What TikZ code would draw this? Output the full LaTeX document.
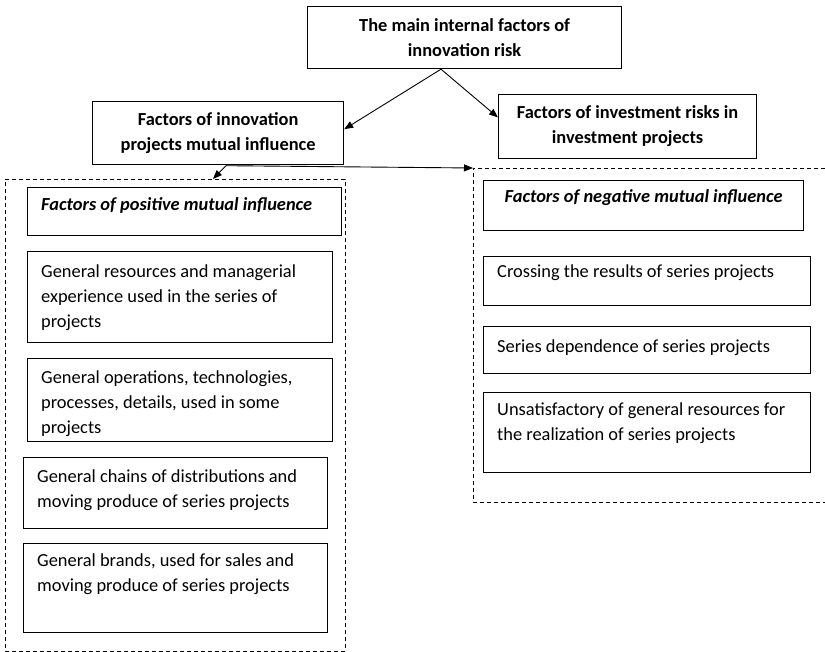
\documentclass[tikz,border=0pt]{standalone}
\usepackage{fontspec}
\setmainfont{Carlito}
\usetikzlibrary{arrows.meta,calc}
\newcommand{\fs}{\fontsize{18.4}{25}\selectfont}
\newcommand{\st}{\rule{0pt}{15pt}}
\begin{document}
\begin{tikzpicture}[x=1pt,y=-1pt,
  box/.style={draw=black, line width=1.2pt, inner sep=0pt, anchor=north west},
  hbox/.style={box, align=center, font=\bfseries\fs},
  txt/.style={inner sep=0pt, align=left, font=\fs, anchor=north west},
  cont/.style={draw=black, line width=0.9pt, dash pattern=on 4pt off 3pt},
  arr/.style={draw=black, line width=0.9pt, -{Triangle[length=9pt,width=7pt]}}
]
\useasboundingbox (0,0) rectangle (825,652);

% top level boxes
\node[hbox, minimum width=314pt, minimum height=62pt] (top) at (307,6) {The main internal factors of\\innovation risk};
\node[hbox, minimum width=251pt, minimum height=63pt] (lb) at (92,101) {Factors of innovation\\projects mutual influence};
\node[hbox, minimum width=258pt, minimum height=64pt] (rb) at (498,94) {Factors of investment risks in\\investment projects};

% left container
\node[cont, inner sep=0pt, minimum width=340pt, minimum height=472pt, anchor=north west] (lc) at (5,179) {};
\node[box, minimum width=314pt, minimum height=48pt] (ph) at (27,187) {};
\node[txt] (pht) at ($(ph.north west)+(14,8)$) {\st\textbf{\textit{Factors of positive mutual influence}}};
\node[box, minimum width=305pt, minimum height=91pt] (b1) at (27,251) {};
\node[txt] (b1t) at ($(b1.north west)+(14,11)$) {\st General resources and managerial\\experience used in the series of\\projects};
\node[box, minimum width=305pt, minimum height=83pt] (b2) at (27,358) {};
\node[txt] (b2t) at ($(b2.north west)+(14,10)$) {\st General operations, technologies,\\processes, details, used in some\\projects};
\node[box, minimum width=304pt, minimum height=71pt] (b3) at (23,457) {};
\node[txt] (b3t) at ($(b3.north west)+(14,10)$) {\st General chains of distributions and\\moving produce of series projects};
\node[box, minimum width=304pt, minimum height=89pt] (b4) at (23,543) {};
\node[txt] (b4t) at ($(b4.north west)+(14,8)$) {\st General brands, used for sales and\\moving produce of series projects};

% right container
\coordinate (rc) at (473,168);
\coordinate (rcb) at (473,502);
\draw[cont] (825,168) -- (rc) -- (rcb) -- (825,502);
\node[box, minimum width=320pt, minimum height=50pt] (nh) at (483,180) {};
\node[inner sep=0pt, font=\fs, anchor=base] (nht) at ($(nh.north)+(0,23)$) {\textbf{\textit{Factors of negative mutual influence}}};
\node[box, minimum width=327pt, minimum height=49pt] (n1) at (483,256) {};
\node[txt] (n1t) at ($(n1.north west)+(14,6)$) {\st Crossing the results of series projects};
\node[box, minimum width=327pt, minimum height=47pt] (n2) at (483,326) {};
\node[txt] (n2t) at ($(n2.north west)+(14,11)$) {\st Series dependence of series projects};
\node[box, minimum width=327pt, minimum height=80pt] (n3) at (483,392) {};
\node[txt] (n3t) at ($(n3.north west)+(14,8)$) {\st Unsatisfactory of general resources for\\the realization of series projects};

% connectors
\coordinate (apex) at ($(top.south west)+(134,0)$);
\draw[arr] (apex) -- ($(lb.north east)!0.44!(lb.south east)$);
\draw[arr] (apex) -- ($(rb.north west)!0.36!(rb.south west)$);
\coordinate (lo) at ($(lb.south west)+(134,0.5)$);
\draw[arr] (lo) -- ($(lc.north west)+(208,0)$);
\draw[arr] (lo) -- (rc);
\end{tikzpicture}
\end{document}
